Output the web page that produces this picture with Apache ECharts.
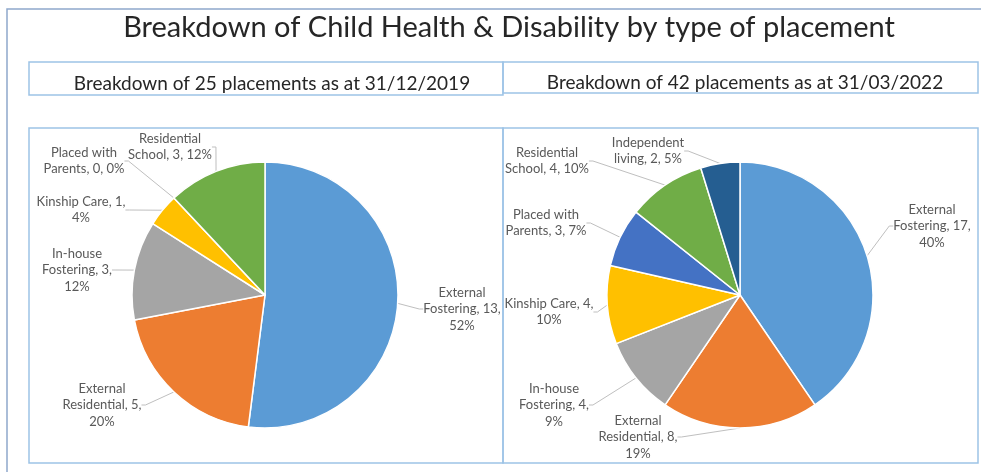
<!DOCTYPE html>
<html><head><meta charset="utf-8">
<script src="https://cdn.jsdelivr.net/npm/echarts@6/dist/echarts.min.js"></script>
<style>html,body{margin:0;padding:0;background:#fff}#c{width:981px;height:472px}</style>
</head><body><div id="c"></div>
<script>
const mainTitle = 'Breakdown of Child Health & Disability by type of placement';
const leftHeader = 'Breakdown of 25 placements as at 31/12/2019';
const rightHeader = 'Breakdown of 42 placements as at 31/03/2022';

const leftCategories = ['External Fostering', 'External Residential', 'In-house Fostering', 'Kinship Care', 'Placed with Parents', 'Residential School'];
const leftValues = [13, 5, 3, 1, 0, 3];
const leftPercents = ['52%', '20%', '12%', '4%', '0%', '12%'];
const leftLabelText = ['External\nFostering, 13,\n52%', 'External\nResidential, 5,\n20%', 'In-house\nFostering, 3,\n12%', 'Kinship Care, 1,\n4%', 'Placed with\nParents, 0, 0%', 'Residential\nSchool, 3, 12%'];

const rightCategories = ['External Fostering', 'External Residential', 'In-house Fostering', 'Kinship Care', 'Placed with Parents', 'Residential School', 'Independent living'];
const rightValues = [17, 8, 4, 4, 3, 4, 2];
const rightPercents = ['40%', '19%', '9%', '10%', '7%', '10%', '5%'];
const rightLabelText = ['External\nFostering, 17,\n40%', 'External\nResidential, 8,\n19%', 'In-house\nFostering, 4,\n9%', 'Kinship Care, 4,\n10%', 'Placed with\nParents, 3, 7%', 'Residential\nSchool, 4, 10%', 'Independent\nliving, 2, 5%'];

// styling / layout (not data)
const colorMap = {
  'External Fostering': '#5B9BD5',
  'External Residential': '#ED7D31',
  'In-house Fostering': '#A5A5A5',
  'Kinship Care': '#FFC000',
  'Placed with Parents': '#4472C4',
  'Residential School': '#70AD47',
  'Independent living': '#255E91'
};
const leftLabelPos = [[462, 309], [102, 405], [77, 270], [81, 210], [84, 161], [170, 147]];
const rightLabelPos = [[932, 226], [638, 437], [554, 405], [549, 312], [546, 223], [547, 161], [648, 151]];

const FONT = 'Lato';
const chart = echarts.init(document.getElementById('c'), null, {renderer: 'canvas'});

function buildData(cats, vals) {
  return cats.map((c, i) => ({name: c, value: vals[i], itemStyle: {color: colorMap[c]}}));
}

function pieSeries(cats, vals, texts, pos, center) {
  return {
    type: 'pie',
    center: center,
    radius: 133,
    startAngle: 90,
    clockwise: true,
    avoidLabelOverlap: false,
    silent: true,
    animation: false,
    itemStyle: {borderColor: '#fff', borderWidth: 1.5},
    label: {
      show: true,
      position: 'outside',
      formatter: p => texts[p.dataIndex],
      color: '#595959',
      fontFamily: FONT,
      fontSize: 13,
      lineHeight: 16.5,
      align: 'center'
    },
    labelLine: {show: true, length: 10, length2: 4, lineStyle: {color: '#BFBFBF', width: 1}},
    labelLayout: function (params) {
      const p = pos[params.dataIndex];
      return {x: p[0], y: p[1], align: 'center', verticalAlign: 'middle'};
    },
    data: buildData(cats, vals)
  };
}

const option = {
  backgroundColor: '#fff',
  animation: false,
  title: [
    {text: mainTitle, left: 504, top: 23, textAlign: 'center', textVerticalAlign: 'middle',
     textStyle: {fontFamily: FONT, fontSize: 29, fontWeight: 'normal', color: '#262626'}},
    {text: leftHeader, left: 267, top: 79, textAlign: 'center', textVerticalAlign: 'middle',
     textStyle: {fontFamily: FONT, fontSize: 19, fontWeight: 'normal', color: '#262626'}},
    {text: rightHeader, left: 740, top: 78, textAlign: 'center', textVerticalAlign: 'middle',
     textStyle: {fontFamily: FONT, fontSize: 19, fontWeight: 'normal', color: '#262626'}}
  ],
  graphic: [
    {type: 'rect', shape: {x: 7, y: 9, width: 1000, height: 500}, style: {fill: 'none', stroke: '#8FA8CC', lineWidth: 1.5}, z: -1},
    {type: 'rect', shape: {x: 29, y: 62, width: 474, height: 33}, style: {fill: 'none', stroke: '#9DC3E6', lineWidth: 1.5}},
    {type: 'rect', shape: {x: 503, y: 62, width: 475, height: 31}, style: {fill: 'none', stroke: '#9DC3E6', lineWidth: 1.5}},
    {type: 'rect', shape: {x: 29, y: 128, width: 474, height: 335}, style: {fill: 'none', stroke: '#9DC3E6', lineWidth: 1.5}},
    {type: 'rect', shape: {x: 503, y: 128, width: 475, height: 335}, style: {fill: 'none', stroke: '#9DC3E6', lineWidth: 1.5}}
  ],
  series: [
    pieSeries(leftCategories, leftValues, leftLabelText, leftLabelPos, [265, 295]),
    pieSeries(rightCategories, rightValues, rightLabelText, rightLabelPos, [740, 295])
  ]
};
chart.setOption(option);
</script>
</body></html>
